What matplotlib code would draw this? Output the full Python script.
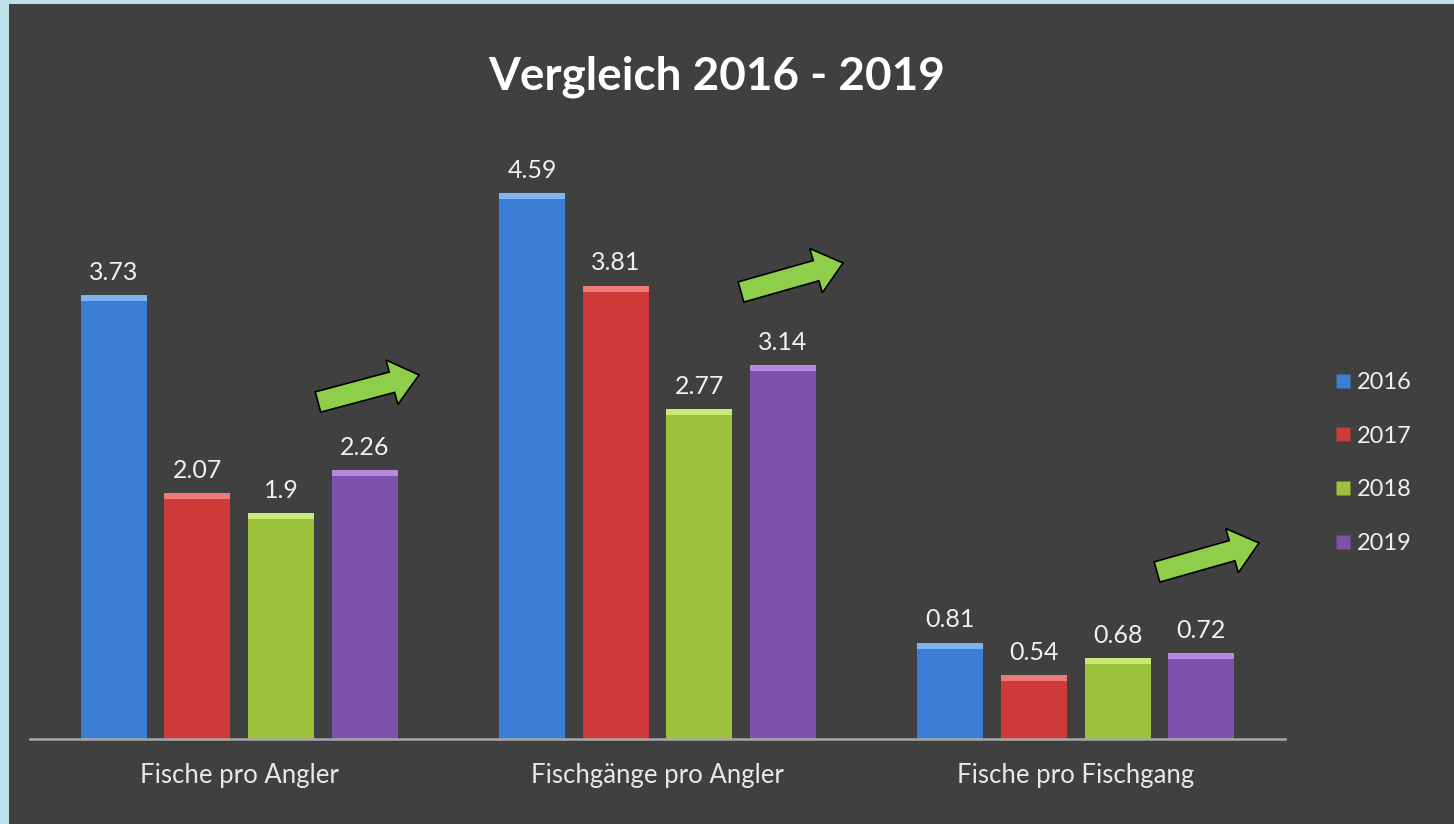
import matplotlib
matplotlib.use("Agg")
import matplotlib.pyplot as plt
import numpy as np
from matplotlib.patches import Rectangle, FancyArrow
from matplotlib.lines import Line2D
import matplotlib.transforms as mtransforms

categories = ["Fische pro Angler", "Fischgänge pro Angler", "Fische pro Fischgang"]
years = ["2016", "2017", "2018", "2019"]
v2016 = [3.73, 4.59, 0.81]
v2017 = [2.07, 3.81, 0.54]
v2018 = [1.90, 2.77, 0.68]
v2019 = [2.26, 3.14, 0.72]
labels2016 = ["3.73", "4.59", "0.81"]
labels2017 = ["2.07", "3.81", "0.54"]
labels2018 = ["1.9", "2.77", "0.68"]
labels2019 = ["2.26", "3.14", "0.72"]

series = [v2016, v2017, v2018, v2019]
series_labels = [labels2016, labels2017, labels2018, labels2019]
colors = ["#3a7fd5", "#cf3a3a", "#9cc23c", "#7c52ad"]
light = ["#7fb4f0", "#f07a7a", "#c8e878", "#b48ae0"]

W, H = 1454, 824
DPI = 100
BG = "#404040"
BORDER = "#bfe1eb"
plt.rcParams['font.family'] = ['Lato', 'DejaVu Sans']

fig = plt.figure(figsize=(W / DPI, H / DPI), dpi=DPI)
fig.patch.set_facecolor(BG)
fig.patches.append(Rectangle((0, 0), 9 / W, 1, transform=fig.transFigure,
                             facecolor=BORDER, edgecolor="none", zorder=0))
fig.patches.append(Rectangle((0, (H - 4) / H), 1, 4 / H, transform=fig.transFigure,
                             facecolor=BORDER, edgecolor="none", zorder=0))

ax_left, ax_right = 30 / W, 1285 / W
ax_bottom = (H - 739) / H
ax_top = (H - 144) / H
ax = fig.add_axes([ax_left, ax_bottom, ax_right - ax_left, ax_top - ax_bottom])
ax.set_facecolor("none")
ax.set_zorder(2)

x = np.arange(len(categories))
bw = 0.157
step = 0.2
offsets = (np.arange(4) - 1.5) * step
for i, (vals, labs) in enumerate(zip(series, series_labels)):
    xs = x + offsets[i]
    ax.bar(xs, vals, width=bw, color=colors[i], edgecolor="none", zorder=2,
           label=years[i])
    bev = 0.05
    ax.bar(xs, [bev] * len(vals), bottom=np.array(vals) - bev, width=bw,
           color=light[i], edgecolor="none", zorder=3)
    for xx, v, lab in zip(xs, vals, labs):
        ax.annotate(lab, (xx, v), xytext=(0, 8), textcoords="offset points",
                    ha="center", va="bottom", color="#f0f0f0", fontsize=18)

ax.set_xlim(-0.5, 2.5)
ax.set_ylim(0, 5)
for s in ["top", "right", "left"]:
    ax.spines[s].set_visible(False)
ax.spines["bottom"].set_color("#a8a8a8")
ax.spines["bottom"].set_linewidth(1.8)
ax.set_yticks([])
ax.set_xticks(x)
ax.set_xticklabels(categories, color="#e8e8e8", fontsize=18.5)
ax.tick_params(axis="x", length=0, pad=17)

fig.text(717 / W, 1 - 77 / H, "Vergleich 2016 - 2019", ha="center",
         va="center", color="white", fontsize=33, fontweight="bold")

handles = [Line2D([0], [0], marker="s", linestyle="none", markersize=10,
                  markerfacecolor=c, markeredgecolor="none") for c in colors]
leg = fig.legend(handles, years, loc="center left",
                 bbox_to_anchor=(1310 / W, 1 - 463 / H), frameon=False,
                 fontsize=17, labelspacing=1.38, handletextpad=0.1,
                 handlelength=1.0)
for t in leg.get_texts():
    t.set_color("#f0f0f0")

# decorative green arrows (pixel coordinates, top-left origin)
px = mtransforms.Affine2D().scale(1, -1).translate(0, H).scale(1 / DPI) + fig.dpi_scale_trans
arrows = [((318, 402), (419, 375)), ((741, 292), (843, 263)), ((1157, 572), (1259, 543))]
for (x0, y0), (x1, y1) in arrows:
    dx, dy = x1 - x0, y1 - y0
    a = FancyArrow(x0, y0, dx, dy, width=21, head_width=46, head_length=28,
                   length_includes_head=True, transform=px,
                   facecolor="#8fce4a", edgecolor="black", linewidth=1.2,
                   zorder=5)
    fig.patches.append(a)

fig.savefig("out.png", dpi=DPI, facecolor=fig.get_facecolor())
